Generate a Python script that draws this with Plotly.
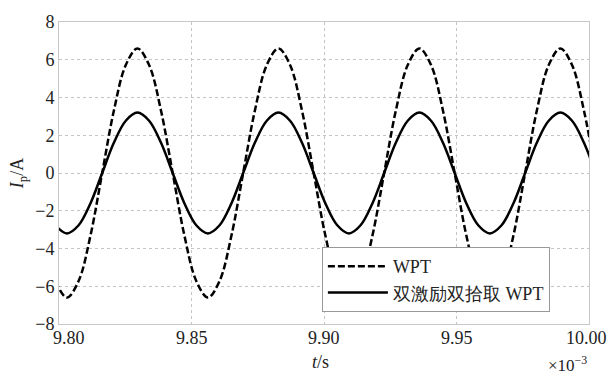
import plotly.graph_objects as go

# time in units of 1e-3 s
t = [9.7986, 9.8030, 9.8074, 9.8119, 9.8163, 9.8207, 9.8252, 9.8296, 9.8340, 9.8385,
     9.8429, 9.8473, 9.8518, 9.8562, 9.8606, 9.8651, 9.8695, 9.8739, 9.8784, 9.8828,
     9.8872, 9.8917, 9.8961, 9.9005, 9.9050, 9.9094, 9.9138, 9.9183, 9.9227, 9.9271,
     9.9316, 9.9360, 9.9404, 9.9449, 9.9493, 9.9537, 9.9582, 9.9626, 9.9670, 9.9715,
     9.9759, 9.9803, 9.9848, 9.9892, 9.9936, 9.9981, 10.0025]

wpt = [-5.72, -6.6, -5.72, -3.3, 0, 3.3, 5.72, 6.6, 5.72, 3.3,
       0, -3.3, -5.72, -6.6, -5.72, -3.3, 0, 3.3, 5.72, 6.6,
       5.72, 3.3, 0, -3.3, -5.72, -6.6, -5.72, -3.3, 0, 3.3,
       5.72, 6.6, 5.72, 3.3, 0, -3.3, -5.72, -6.6, -5.72, -3.3,
       0, 3.3, 5.72, 6.6, 5.72, 3.3, 0]

dual = [-2.77, -3.2, -2.77, -1.6, 0, 1.6, 2.77, 3.2, 2.77, 1.6,
        0, -1.6, -2.77, -3.2, -2.77, -1.6, 0, 1.6, 2.77, 3.2,
        2.77, 1.6, 0, -1.6, -2.77, -3.2, -2.77, -1.6, 0, 1.6,
        2.77, 3.2, 2.77, 1.6, 0, -1.6, -2.77, -3.2, -2.77, -1.6,
        0, 1.6, 2.77, 3.2, 2.77, 1.6, 0]

names = ["WPT", "双激励双拾取 WPT"]
xticks = [9.80, 9.85, 9.90, 9.95, 10.00]
xticktext = ["9.80", "9.85", "9.90", "9.95", "10.00"]
xtickshift = [10, 0, 0, 0, -3]
yticks = [-8, -6, -4, -2, 0, 2, 4, 6, 8]
yticktext = ["−8", "−6", "−4", "−2", "0", "2", "4", "6", "8"]

FONT = "Times New Roman, Liberation Serif, DejaVu Serif, serif"

fig = go.Figure()
fig.add_trace(go.Scatter(x=t, y=wpt, mode="lines", name=names[0],
                         line=dict(color="black", width=2.5, dash="7px,3px", shape="spline")))
fig.add_trace(go.Scatter(x=t, y=dual, mode="lines", name=names[1],
                         line=dict(color="black", width=2.5, shape="spline")))

grid = dict(showgrid=True, gridcolor="#c4c4c4", griddash="dot", gridwidth=1,
            showline=True, linecolor="#c8c8c8", linewidth=1, mirror=True,
            zeroline=False, ticks="", tickfont=dict(family=FONT, size=18, color="#222"))

fig.update_layout(
    width=611, height=376,
    margin=dict(l=59, r=22, t=16, b=52),
    paper_bgcolor="white", plot_bgcolor="white",
    font=dict(family=FONT, color="#222"),
    xaxis=dict(range=[9.80, 10.00], tickvals=xticks, showticklabels=False,
               **grid),
    yaxis=dict(range=[-8, 8], tickvals=yticks, ticktext=yticktext,
               title=dict(text="<i>I</i><sub>p</sub>/A", font=dict(family=FONT, size=18), standoff=6),
               **grid),
    legend=dict(x=0.496, y=0.255, xanchor="left", yanchor="top",
                bgcolor="white", bordercolor="#999", borderwidth=1,
                font=dict(family=FONT, size=18, color="#222"),
                tracegroupgap=0, itemwidth=60),
    showlegend=True,
)

for xv, txt, sh in zip(xticks, xticktext, xtickshift):
    fig.add_annotation(text=txt, x=xv, xref="x", y=0, yref="paper", yanchor="top",
                       yshift=-2, xshift=sh, showarrow=False,
                       font=dict(family=FONT, size=18, color="#222"))

fig.add_annotation(text="<i>t</i>/s", xref="paper", yref="paper",
                   x=0.494, y=-0.085, xanchor="center", yanchor="top", showarrow=False,
                   font=dict(family=FONT, size=18, color="#222"))

fig.add_annotation(text="×10<sup>−3</sup>", xref="paper", yref="paper",
                   x=1.0, y=-0.09, xanchor="right", yanchor="top", showarrow=False,
                   font=dict(family=FONT, size=17, color="#222"))

fig.write_html("out.html")
